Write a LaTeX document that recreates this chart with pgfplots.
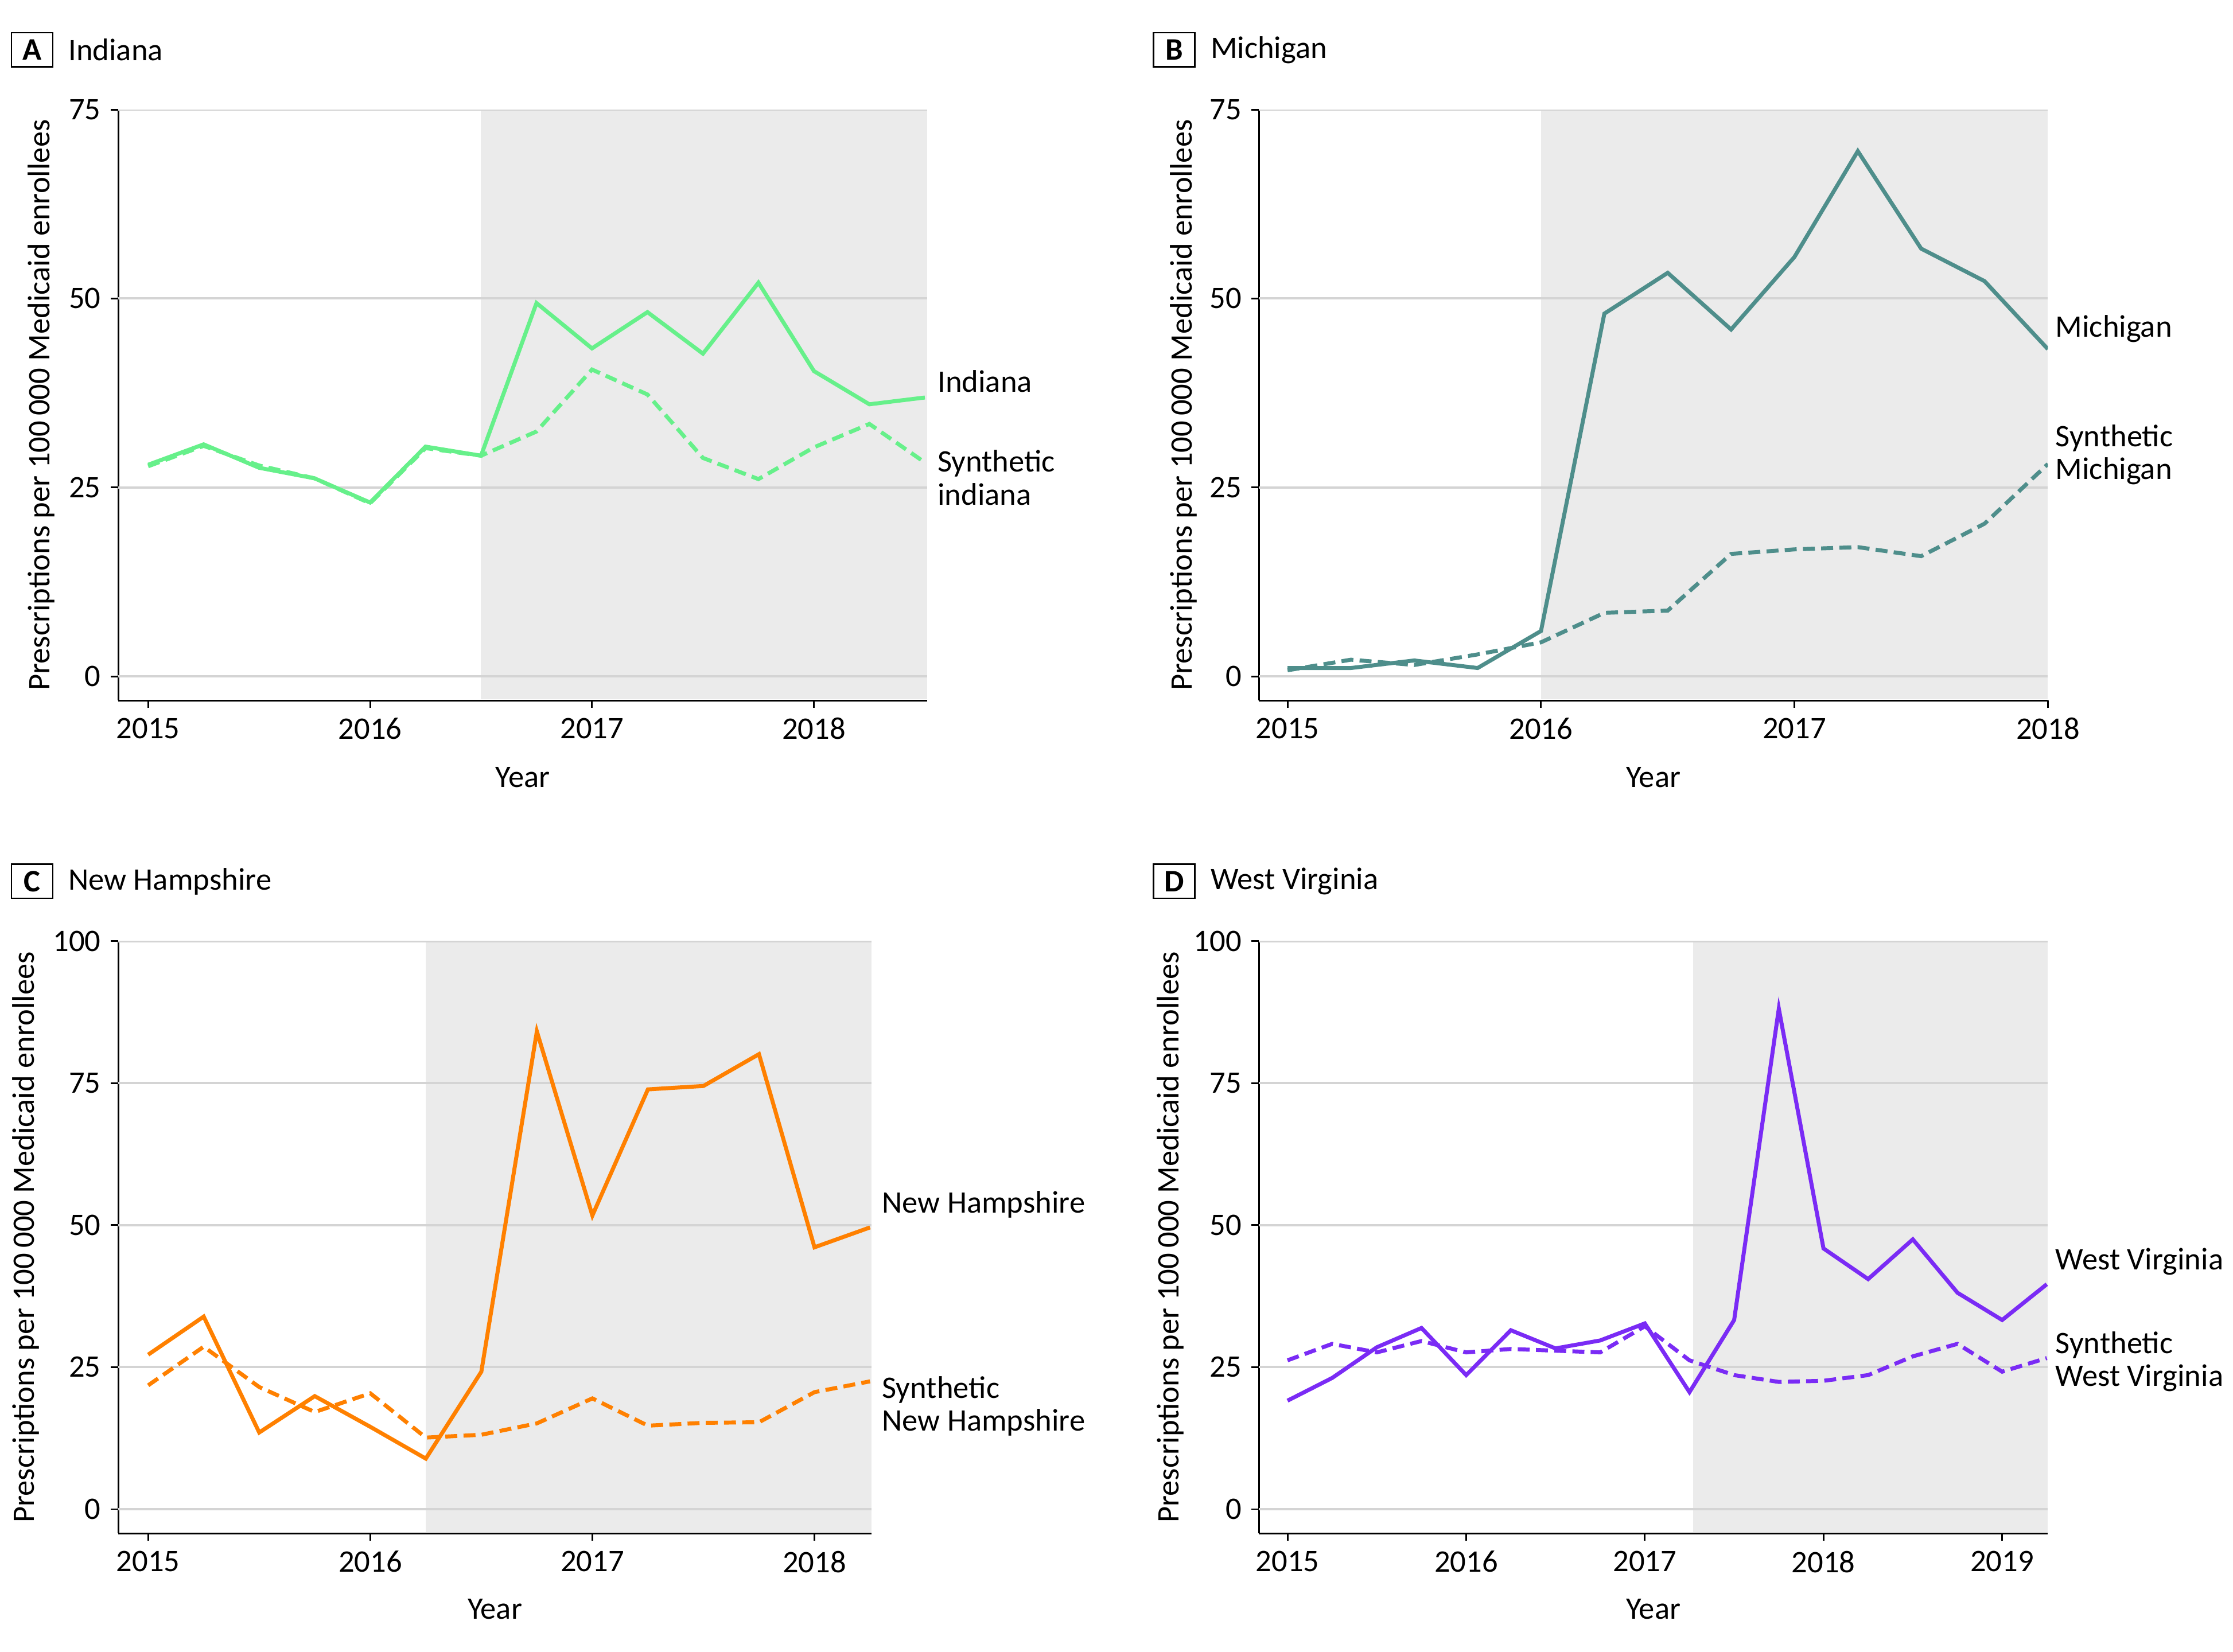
\documentclass[border=0pt]{standalone}
\usepackage{pgfplots}
\pgfplotsset{compat=1.18}
\usepackage{fontspec}
\setmainfont{Carlito}
\definecolor{IndGreen}{HTML}{66F08A}
\definecolor{MichTeal}{HTML}{4E8E8B}
\definecolor{NHOrange}{HTML}{FF8000}
\definecolor{WVPurple}{HTML}{7A2BF5}
\definecolor{ShadeGray}{HTML}{EBEBEB}
\definecolor{GridGray}{HTML}{D4D4D4}

\pgfplotsset{
  panel/.style={
    scale only axis,
    anchor=south west,
    axis x line*=bottom, axis y line*=left,
    axis line style={-, black, line width=0.6pt},
    tick align=outside,
    major tick length=2.6pt,
    tick style={black, line width=0.6pt},
    /pgf/number format/assume math mode=true,
    /pgf/number format/1000 sep={},
    ticklabel style={font=\fontsize{11}{13}\selectfont},
    xtick pos=bottom, ytick pos=left,
  },
  obs/.style={line width=1.4pt},
  syn/.style={line width=1.4pt, dash pattern=on 4.2pt off 2.2pt},
}
% grid lines drawn over the shaded band
\newcommand{\hgrid}[3]{%
  \pgfplotsinvokeforeach{#3}{\draw[GridGray, line width=0.8pt] (axis cs:#1,##1) -- (axis cs:#2,##1);}}

\newcommand{\paneltitle}[4]{%
  \draw[black, line width=0.5pt] (#1,#2+6pt) rectangle ++(14.5pt,-12pt);
  \node[font=\fontsize{11}{13}\selectfont\bfseries] at (#1+7.25pt,#2) {#3};
  \node[anchor=west, font=\fontsize{11}{13}\selectfont] at (#1+16.5pt,#2) {#4};
}

\begin{document}
\begin{tikzpicture}
\useasboundingbox (0,0) rectangle (784pt,-580pt);

% ---------------- A: Indiana
\begin{axis}[panel, at={(41.5pt,-246pt)}, width=284pt, height=207.5pt,
  xmin=2014.865, xmax=2018.51, ymin=-3.2, ymax=75,
  xtick={2015,2016,2017,2018}, ytick={0,25,50,75}]
\fill[ShadeGray] (axis cs:2016.5,-3.05) rectangle (axis cs:2018.51,75);
\hgrid{2014.865}{2018.51}{0,25,50,75}
\addplot[IndGreen, syn] coordinates {
  (2015,27.8) (2015.25,30.5) (2015.5,27.9) (2015.75,26.2) (2016,22.9)
  (2016.25,30.2) (2016.5,29.2) (2016.75,32.4) (2017,40.6) (2017.25,37.3)
  (2017.5,28.9) (2017.75,26.1) (2018,30.3) (2018.25,33.4) (2018.5,28.3)};
\addplot[IndGreen, obs] coordinates {
  (2015,28.0) (2015.25,30.7) (2015.5,27.6) (2015.75,26.2) (2016,23.0)
  (2016.25,30.4) (2016.5,29.2) (2016.75,49.4) (2017,43.4) (2017.25,48.2)
  (2017.5,42.7) (2017.75,52.1) (2018,40.4) (2018.25,36.0) (2018.5,36.9)};
\end{axis}

% ---------------- B: Michigan
\begin{axis}[panel, at={(442pt,-246pt)}, width=277pt, height=207.5pt,
  xmin=2014.887, xmax=2018, ymin=-3.2, ymax=75,
  xtick={2015,2016,2017,2018}, ytick={0,25,50,75}]
\fill[ShadeGray] (axis cs:2016,-3.05) rectangle (axis cs:2018,75);
\hgrid{2014.887}{2018}{0,25,50,75}
\addplot[MichTeal, syn] coordinates {
  (2015,0.8) (2015.25,2.2) (2015.5,1.5) (2015.75,2.9) (2016,4.5)
  (2016.25,8.4) (2016.5,8.7) (2016.75,16.2) (2017,16.8) (2017.25,17.1)
  (2017.5,15.9) (2017.75,20.2) (2018,28.1)};
\addplot[MichTeal, obs] coordinates {
  (2015,1.1) (2015.25,1.1) (2015.5,2.1) (2015.75,1.1) (2016,6.0)
  (2016.25,48.0) (2016.5,53.4) (2016.75,45.9) (2017,55.5) (2017.25,69.5)
  (2017.5,56.6) (2017.75,52.3) (2018,43.3)};
\end{axis}

% ---------------- C: New Hampshire
\begin{axis}[panel, at={(41.5pt,-538.5pt)}, width=264.5pt, height=208pt,
  xmin=2014.865, xmax=2018.257, ymin=-4.27, ymax=100,
  xtick={2015,2016,2017,2018}, ytick={0,25,50,75,100}]
\fill[ShadeGray] (axis cs:2016.25,-4.07) rectangle (axis cs:2018.257,100);
\hgrid{2014.865}{2018.257}{0,25,50,75,100}
\addplot[NHOrange, syn] coordinates {
  (2015,21.8) (2015.25,28.6) (2015.5,21.5) (2015.75,17.1) (2016,20.4)
  (2016.25,12.6) (2016.5,13.1) (2016.75,15.1) (2017,19.5) (2017.25,14.7)
  (2017.5,15.2) (2017.75,15.3) (2018,20.6) (2018.25,22.5)};
\addplot[NHOrange, obs] coordinates {
  (2015,27.2) (2015.25,33.9) (2015.5,13.5) (2015.75,19.9) (2016,14.5)
  (2016.25,8.9) (2016.5,24.2) (2016.75,84.1) (2017,51.7) (2017.25,73.9)
  (2017.5,74.5) (2017.75,80.1) (2018,46.1) (2018.25,49.6)};
\end{axis}

% ---------------- D: West Virginia
\begin{axis}[panel, at={(442pt,-538.5pt)}, width=277pt, height=208pt,
  xmin=2014.84, xmax=2019.256, ymin=-4.27, ymax=100,
  xtick={2015,2016,2017,2018,2019}, ytick={0,25,50,75,100}]
\fill[ShadeGray] (axis cs:2017.27,-4.07) rectangle (axis cs:2019.256,100);
\hgrid{2014.84}{2019.256}{0,25,50,75,100}
\addplot[WVPurple, syn] coordinates {
  (2015,26.2) (2015.25,29.1) (2015.5,27.6) (2015.75,29.6) (2016,27.6)
  (2016.25,28.2) (2016.5,27.9) (2016.75,27.6) (2017,32.2) (2017.25,26.2)
  (2017.5,23.6) (2017.75,22.4) (2018,22.6) (2018.25,23.6) (2018.5,26.9)
  (2018.75,29.1) (2019,24.2) (2019.25,26.6)};
\addplot[WVPurple, obs] coordinates {
  (2015,19.1) (2015.25,23.1) (2015.5,28.5) (2015.75,31.9) (2016,23.6)
  (2016.25,31.5) (2016.5,28.3) (2016.75,29.7) (2017,32.7) (2017.25,20.6)
  (2017.5,33.3) (2017.75,88.1) (2018,45.9) (2018.25,40.5) (2018.5,47.5)
  (2018.75,38.1) (2019,33.3) (2019.25,39.6)};
\end{axis}

% ---------------- titles
\paneltitle{4pt}{-17.5pt}{A}{Indiana}
\paneltitle{405pt}{-17.5pt}{B}{Michigan}
\paneltitle{4pt}{-309.5pt}{C}{New Hampshire}
\paneltitle{405pt}{-309.5pt}{D}{West Virginia}

% ---------------- axis titles
\begin{scope}[font=\fontsize{11}{13}\selectfont]
\node at (183.5pt,-273pt) {Year};
\node at (580.5pt,-273pt) {Year};
\node at (173.75pt,-565pt) {Year};
\node at (580.5pt,-565pt) {Year};
\node[rotate=90] at (14.5pt,-142.25pt) {Prescriptions per 100\,000 Medicaid enrollees};
\node[rotate=90] at (415.5pt,-142.25pt) {Prescriptions per 100\,000 Medicaid enrollees};
\node[rotate=90] at (9pt,-434.5pt) {Prescriptions per 100\,000 Medicaid enrollees};
\node[rotate=90] at (411pt,-434.5pt) {Prescriptions per 100\,000 Medicaid enrollees};
\end{scope}

% ---------------- series labels
\begin{scope}[every node/.style={anchor=west, align=left, inner sep=0pt,
    font=\fontsize{11}{11.5}\selectfont}]
\node at (329pt,-134pt) {Indiana};
\node at (329pt,-167.75pt) {Synthetic\\indiana};
\node at (721.5pt,-115.5pt) {Michigan};
\node at (721.5pt,-159.75pt) {Synthetic\\Michigan};
\node at (309.5pt,-423pt) {New Hampshire};
\node at (309.5pt,-493.75pt) {Synthetic\\New Hampshire};
\node at (721.5pt,-443pt) {West Virginia};
\node at (721.5pt,-478.25pt) {Synthetic\\West Virginia};
\end{scope}
\end{tikzpicture}
\end{document}
